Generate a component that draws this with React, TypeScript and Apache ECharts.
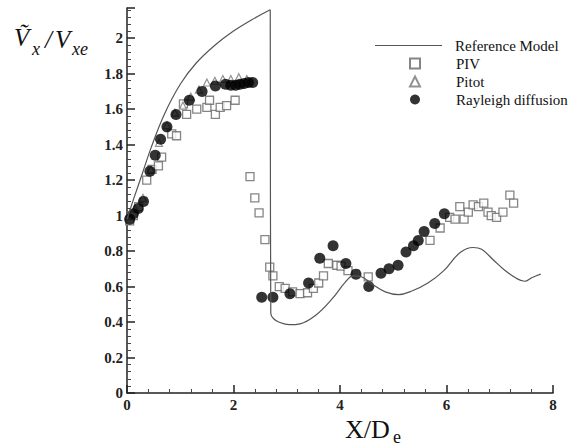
import React, { useEffect, useRef } from "react";
import * as echarts from "echarts";

// Reference Model (solid line)
const refX = [0, 0.12, 0.28, 0.45, 0.7, 1.0, 1.3, 1.65, 2.0, 2.35, 2.69, 2.7, 2.75, 2.85, 3.05, 3.25, 3.55, 3.85, 4.1, 4.25, 4.4, 4.6, 4.85, 5.1, 5.35, 5.65, 5.95, 6.25, 6.5, 6.66, 6.88, 7.1, 7.32, 7.47, 7.6, 7.77];
const refY = [0.98, 1.09, 1.23, 1.38, 1.57, 1.74, 1.86, 1.96, 2.04, 2.105, 2.16, 0.45, 0.42, 0.4, 0.385, 0.39, 0.44, 0.53, 0.625, 0.66, 0.655, 0.615, 0.57, 0.555, 0.575, 0.62, 0.69, 0.79, 0.82, 0.81, 0.75, 0.69, 0.645, 0.63, 0.65, 0.67];
const refPeakIndex = 10; // the model drops vertically after this point

// PIV (open squares)
const pivX = [0.05, 0.12, 0.22, 0.37, 0.47, 0.59, 0.65, 0.84, 0.93, 1.06, 1.12, 1.31, 1.5, 1.55, 1.66, 1.75, 1.87, 2.03,
  2.31, 2.4, 2.48, 2.59, 2.68, 2.74, 2.86, 2.97, 3.11, 3.25, 3.39, 3.5, 3.6, 3.69, 3.78, 3.94, 4.02, 4.15, 4.53,
  5.69, 5.88, 6.06, 6.16, 6.25, 6.33, 6.41, 6.5, 6.6, 6.7, 6.78, 6.84, 6.94, 7.06, 7.19, 7.26];
const pivY = [0.97, 1.0, 1.05, 1.2, 1.26, 1.28, 1.33, 1.46, 1.45, 1.63, 1.57, 1.6, 1.61, 1.65, 1.57, 1.61, 1.62, 1.65,
  1.22, 1.1, 1.015, 0.865, 0.71, 0.66, 0.6, 0.59, 0.57, 0.56, 0.565, 0.59, 0.62, 0.66, 0.73, 0.72, 0.715, 0.69, 0.655,
  0.86, 0.93, 0.99, 0.98, 1.05, 0.98, 1.02, 1.06, 1.05, 1.07, 1.02, 1.0, 0.99, 1.02, 1.115, 1.07];

// Pitot (open triangles)
const pitotX = [0.05, 0.15, 0.3, 0.45, 0.6, 0.75, 0.9, 1.05, 1.2, 1.35, 1.5, 1.65, 1.8, 1.95, 2.1, 2.25];
const pitotY = [1.0, 1.04, 1.1, 1.26, 1.41, 1.51, 1.58, 1.62, 1.67, 1.71, 1.75, 1.76, 1.77, 1.77, 1.78, 1.77];

// Rayleigh diffusion (filled circles)
const rayX = [0.05, 0.12, 0.21, 0.31, 0.43, 0.53, 0.63, 0.75, 0.92, 1.17, 1.41, 1.66, 1.85, 1.95, 2.04, 2.12, 2.2, 2.28, 2.36,
  2.53, 2.74, 3.06, 3.41, 3.62, 3.87, 4.11, 4.3, 4.54, 4.77, 4.92, 5.09, 5.24, 5.38, 5.47, 5.58, 5.78, 5.96];
const rayY = [0.98, 1.01, 1.04, 1.08, 1.25, 1.34, 1.43, 1.5, 1.57, 1.65, 1.7, 1.73, 1.74, 1.735, 1.735, 1.74, 1.745, 1.75, 1.75,
  0.54, 0.54, 0.56, 0.62, 0.76, 0.83, 0.73, 0.67, 0.6, 0.675, 0.7, 0.72, 0.795, 0.83, 0.86, 0.91, 0.955, 1.01];

const seriesNames = ["Reference Model", "PIV", "Pitot", "Rayleigh diffusion"];

const zip = (xs: number[], ys: number[]) => xs.map((x, i) => [x, ys[i]]);
const serif = "Liberation Serif";
const tnr = "Times New Roman";

export default function App() {
  const ref = useRef<HTMLDivElement>(null);
  useEffect(() => {
    const chart = echarts.init(ref.current!, null, { renderer: "svg" });
    const axisCommon = {
      type: "value" as const,
      splitLine: { show: false },
      axisLine: { lineStyle: { color: "#222", width: 1.5 } },
      axisTick: { inside: true, length: 8, lineStyle: { color: "#222", width: 1.5 } },
      minorTick: { show: true, splitNumber: 5, length: 4, lineStyle: { color: "#444", width: 1 } },
    };
    const tickLabel = { fontFamily: tnr, fontSize: 15, fontWeight: "bold", color: "#222", margin: 4 };
    const legendText = { fontFamily: tnr, fontSize: 15, color: "#111", lineHeight: 17 };
    const lineStyle = { color: "#555", width: 1.2 };
    chart.setOption({
      animation: false,
      grid: { left: 127, right: 29, top: 8, bottom: 53 },
      xAxis: { ...axisCommon, min: 0, max: 8, interval: 2, axisLabel: tickLabel },
      yAxis: {
        ...axisCommon,
        min: 0,
        max: 2.17,
        interval: 0.2,
        axisLabel: { ...tickLabel, showMaxLabel: false },
      },
      legend: [
        {
          orient: "vertical",
          left: 375,
          top: 37,
          padding: 0,
          itemWidth: 67,
          itemHeight: 1.2,
          data: [{ name: seriesNames[0], icon: "rect" }],
          textStyle: { ...legendText, padding: [0, 0, 0, 8] },
        },
        {
          orient: "vertical",
          left: 409,
          top: 55,
          padding: 0,
          itemWidth: 10,
          itemHeight: 10,
          itemGap: 1,
          data: [
            { name: seriesNames[1], icon: "rect" },
            { name: seriesNames[2], icon: "triangle" },
            { name: seriesNames[3], icon: "circle" },
          ],
          textStyle: { ...legendText, padding: [0, 0, 0, 31] },
        },
      ],
      graphic: [
        { type: "text", left: 14, top: 25, style: { text: "Ṽ", font: `italic 25px ${serif}`, fill: "#111" } },
        { type: "text", left: 32, top: 40, style: { text: "x", font: `italic 18px ${serif}`, fill: "#111" } },
        { type: "text", left: 45, top: 27, style: { text: "/", font: `italic 25px ${serif}`, fill: "#111" } },
        { type: "text", left: 55, top: 27, style: { text: "V", font: `italic 25px ${serif}`, fill: "#111" } },
        { type: "text", left: 72, top: 40, style: { text: "xe", font: `italic 18px ${serif}`, fill: "#111" } },
        { type: "text", left: 345, top: 416, style: { text: "X/D", font: `26px ${serif}`, fill: "#111" } },
        { type: "text", left: 393, top: 428, style: { text: "e", font: `18px ${serif}`, fill: "#111" } },
      ],
      series: [
        {
          name: seriesNames[0],
          type: "line",
          data: zip(refX.slice(0, refPeakIndex + 1), refY.slice(0, refPeakIndex + 1)),
          symbol: "none",
          smooth: 0.4,
          lineStyle,
          itemStyle: { color: "#555" },
        },
        {
          name: seriesNames[0],
          type: "line",
          data: zip(refX.slice(refPeakIndex), refY.slice(refPeakIndex)),
          symbol: "none",
          smooth: 0.4,
          lineStyle,
          itemStyle: { color: "#555" },
        },
        {
          name: seriesNames[1],
          type: "scatter",
          data: zip(pivX, pivY),
          symbol: "rect",
          symbolSize: 8,
          itemStyle: { color: "#fff", borderColor: "#666", borderWidth: 1.3 },
        },
        {
          name: seriesNames[2],
          type: "scatter",
          data: zip(pitotX, pitotY),
          symbol: "triangle",
          symbolSize: 7,
          itemStyle: { color: "#fff", borderColor: "#777", borderWidth: 1.2 },
        },
        {
          name: seriesNames[3],
          type: "scatter",
          data: zip(rayX, rayY),
          symbol: "circle",
          symbolSize: 11,
          itemStyle: { color: "#000" },
        },
      ],
    });
    return () => chart.dispose();
  }, []);
  return (
    <div
      ref={ref}
      style={{ position: "absolute", left: 0, top: 0, width: 582, height: 446, background: "#fff" }}
    />
  );
}
